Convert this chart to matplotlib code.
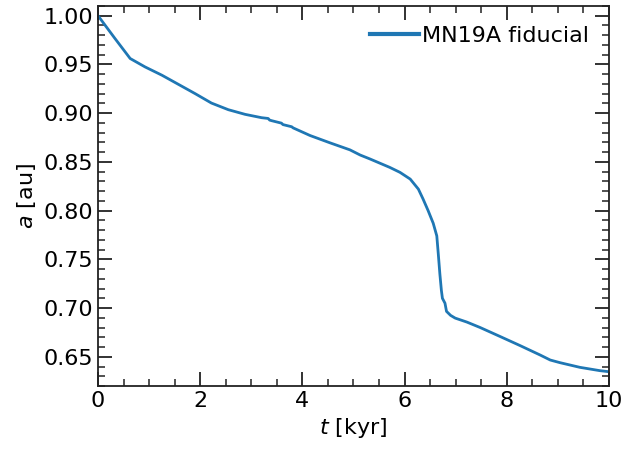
import matplotlib
matplotlib.use("Agg")
import matplotlib.pyplot as plt
from matplotlib.ticker import MultipleLocator, FormatStrFormatter

# Semi-major axis evolution of the fiducial MN19A run
t_kyr = [0.00, 0.33, 0.63, 0.92, 1.25, 1.57, 1.90, 2.22, 2.55, 2.88, 3.20,
         3.33, 3.36, 3.40, 3.59, 3.62, 3.79, 3.82, 4.15, 4.54, 4.93, 5.13,
         5.32, 5.71, 5.91, 6.11, 6.27, 6.36, 6.46, 6.56, 6.63, 6.66, 6.69,
         6.72, 6.74, 6.76, 6.79, 6.82, 6.90, 6.99, 7.22, 7.48, 7.87, 8.26,
         8.65, 8.85, 9.04, 9.43, 9.82, 10.00]
a_au = [1.000, 0.9767, 0.956, 0.9474, 0.9389, 0.9296, 0.920, 0.9103,
        0.9035, 0.8987, 0.8953, 0.8945, 0.8928, 0.8922, 0.8897, 0.8882,
        0.8860, 0.8848, 0.877, 0.8695, 0.8623, 0.8570, 0.8530, 0.8443,
        0.8392, 0.8323, 0.822, 0.812, 0.800, 0.787, 0.774, 0.755, 0.735,
        0.718, 0.710, 0.708, 0.705, 0.6966, 0.6925, 0.6897, 0.6856, 0.680,
        0.6708, 0.6615, 0.6519, 0.6467, 0.6440, 0.6392, 0.6358, 0.6347]

plt.rcParams["font.size"] = 16
plt.rcParams["mathtext.fontset"] = "dejavusans"

fig = plt.figure(figsize=(6.24, 4.51), dpi=100)
ax = fig.add_axes([0.157, 0.144, 0.819, 0.843])

ax.plot(t_kyr, a_au, color="#1f77b4", lw=2.0, label="MN19A fiducial")

ax.set_xlim(0, 10)
ax.set_ylim(0.62, 1.01)
ax.xaxis.set_major_locator(MultipleLocator(2))
ax.xaxis.set_minor_locator(MultipleLocator(0.5))
ax.yaxis.set_major_locator(MultipleLocator(0.05))
ax.yaxis.set_minor_locator(MultipleLocator(0.01))
ax.yaxis.set_major_formatter(FormatStrFormatter("%.2f"))

ax.tick_params(which="both", direction="in", top=True, right=True,
               color="#222222")
ax.tick_params(which="major", length=10, width=1.3, labelsize=16)
ax.tick_params(which="minor", length=5, width=1.1)
for s in ax.spines.values():
    s.set_linewidth(1.3)
    s.set_color("#222222")

ax.set_xlabel("$t$ [kyr]", fontsize=16)
ax.set_ylabel("$a$ [au]", fontsize=16)

leg = ax.legend(loc="upper right", frameon=False, fontsize=16,
                handlelength=2.2, handletextpad=0.15)
for line in leg.get_lines():
    line.set_linewidth(3.0)

fig.savefig("out.png", dpi=100)
